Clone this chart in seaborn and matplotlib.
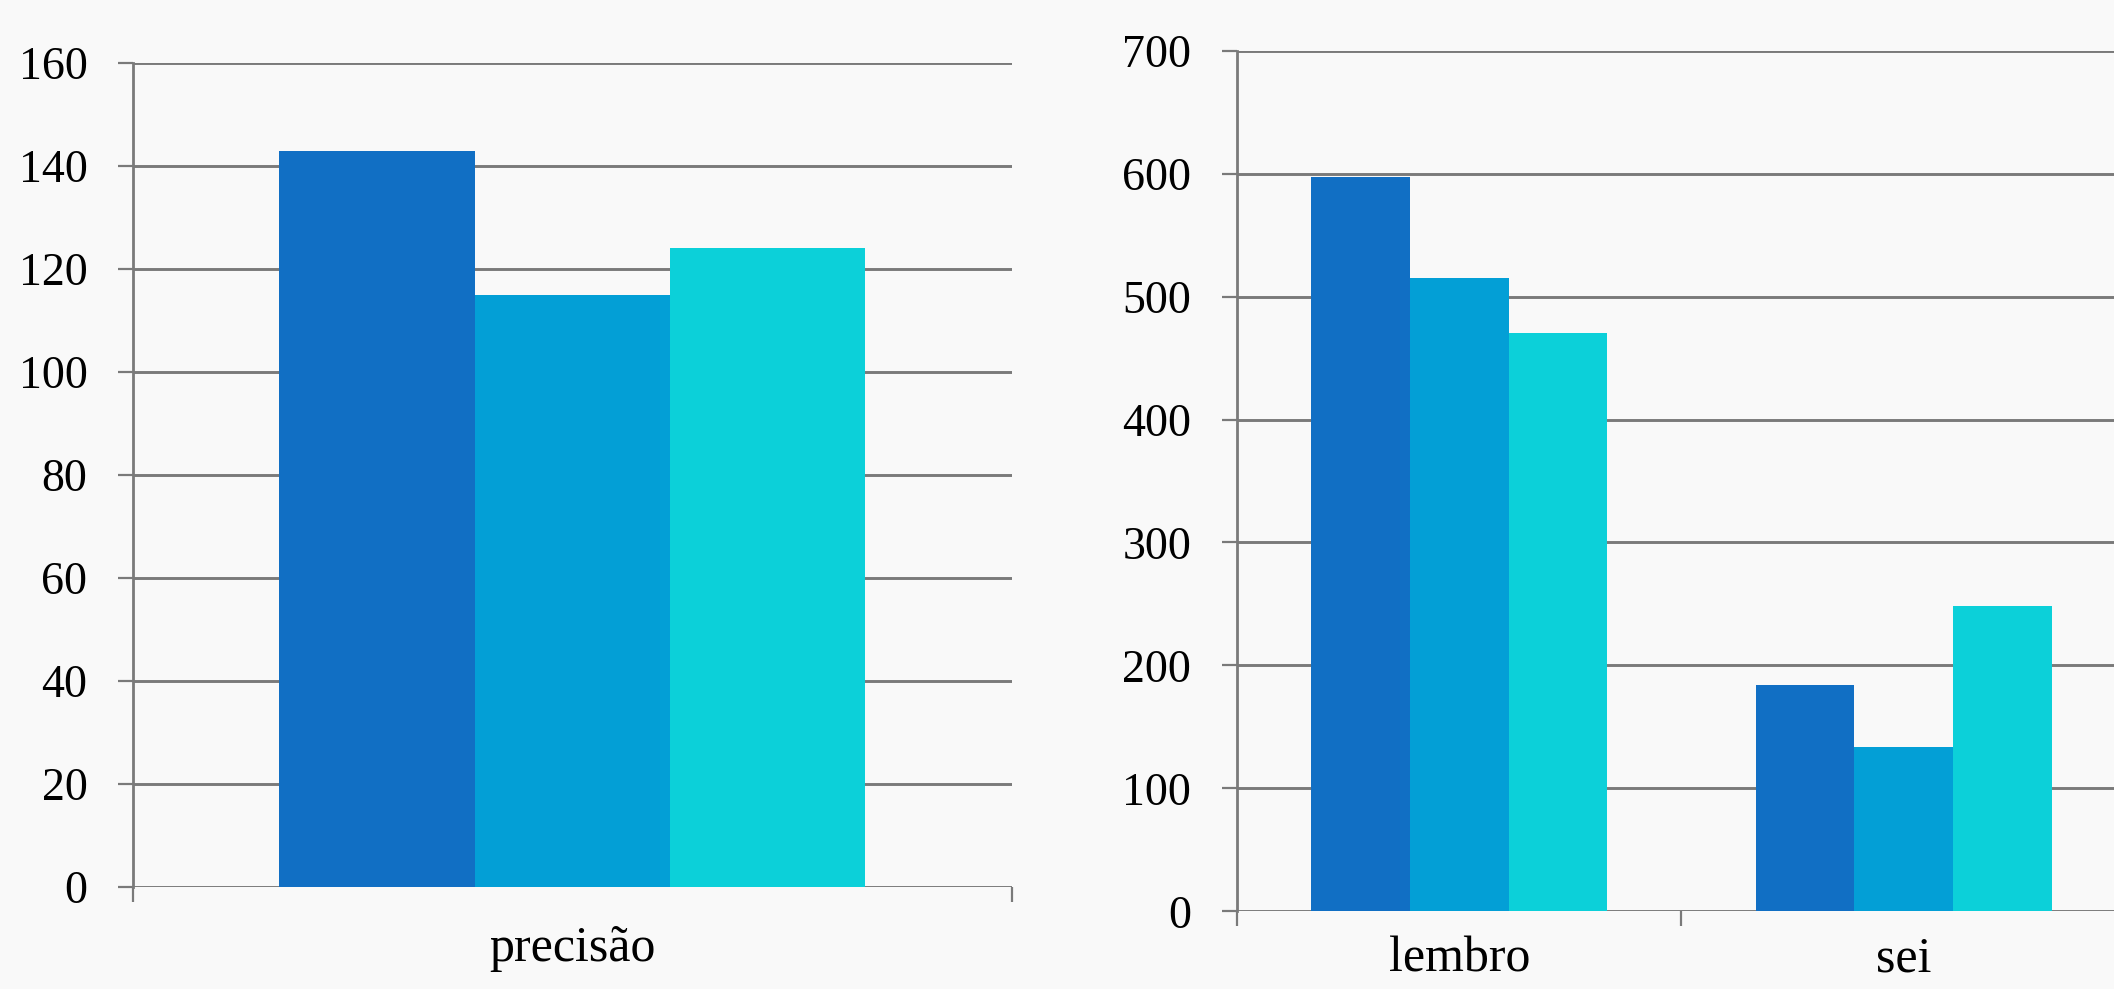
import pandas as pd
import matplotlib.pyplot as plt
import seaborn as sns

# data
series = ['série 1', 'série 2', 'série 3']
colors = ['#116FC4', '#039FD6', '#0CD0D9']

left_categories = ['precisão']
left_values = [[143], [115], [124]]          # one list per series

right_categories = ['lembro', 'sei']
right_values = [[597, 184], [515, 134], [470, 248]]

left_ticks = [0, 20, 40, 60, 80, 100, 120, 140, 160]
right_ticks = [0, 100, 200, 300, 400, 500, 600, 700]


def to_long(categories, values):
    rows = []
    for s, vals in zip(series, values):
        for c, v in zip(categories, vals):
            rows.append({'categoria': c, 'série': s, 'valor': v})
    return pd.DataFrame(rows)


sns.set_theme(style='white')
plt.rcParams['font.family'] = ['Liberation Serif', 'DejaVu Serif']

grid_col = '#7A7A7A'
bg = '#F9F9F9'

fig = plt.figure(figsize=(21.14, 9.89), dpi=100, facecolor=bg)
ax_l = fig.add_axes([0.0629, 0.1031, 0.4157, 0.8332])
ax_r = fig.add_axes([0.5851, 0.0786, 0.4206, 0.8701])

# (axes, categories, values, y ticks, x label pad)
panels = [
    (ax_l, left_categories, left_values, left_ticks, 28),
    (ax_r, right_categories, right_values, right_ticks, 18),
]

for ax, cats, vals, ticks, xpad in panels:
    df = to_long(cats, vals)
    sns.barplot(data=df, x='categoria', y='valor', hue='série',
                palette=colors, width=2 / 3, linewidth=0,
                saturation=1, legend=False, ax=ax, zorder=3)
    ax.set_facecolor('none')
    ax.set_xlim(-0.5, len(cats) - 0.5)
    ax.set_ylim(ticks[0], ticks[-1])
    ax.set_yticks(ticks)
    ax.set_yticklabels([str(t) for t in ticks])
    ax.set_xlabel('')
    ax.set_ylabel('')

    # horizontal grid at every tick, under the bars
    for t in ticks:
        ax.axhline(t, color=grid_col, lw=2.1, zorder=1)

    for side in ['top', 'right', 'bottom']:
        ax.spines[side].set_visible(False)
    ax.spines['left'].set_color(grid_col)
    ax.spines['left'].set_linewidth(2.0)
    ax.spines['left'].set_zorder(2)

    ax.tick_params(axis='y', which='major', direction='out', length=10.8,
                   width=1.6, color=grid_col, left=True, pad=22,
                   labelsize=33, labelcolor='black')
    ax.tick_params(axis='x', which='major', length=0, pad=xpad,
                   labelsize=36, labelcolor='black')
    ax.set_xticks([i - 0.5 for i in range(len(cats) + 1)], minor=True)
    ax.tick_params(axis='x', which='minor', direction='out', length=10.8,
                   width=1.6, color=grid_col, bottom=True)

fig.savefig('out.png', dpi=100, facecolor=bg)
